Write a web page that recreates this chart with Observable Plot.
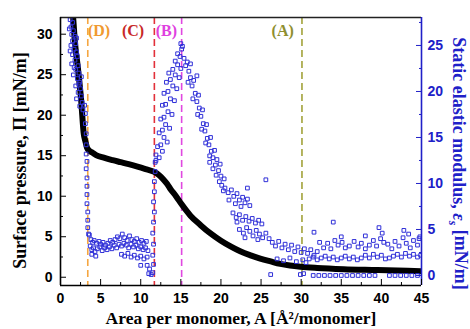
<!DOCTYPE html>
<html><head><meta charset="utf-8">
<script src="https://cdn.jsdelivr.net/npm/d3@7"></script>
<script src="https://cdn.jsdelivr.net/npm/@observablehq/plot@0.6"></script>
<style>body{margin:0;background:#fff}</style>
</head><body><div id="chart"></div>
<script>
// ---- scales / ticks ----
const xDomain = [0, 45];
const leftDomain = [-1.02, 32.06];   // surface pressure Π
const rightDomain = [-1.09, 28.04];  // elastic modulus ε_s
const xTicks = [0, 5, 10, 15, 20, 25, 30, 35, 40, 45];
const xMinor = [2.5, 7.5, 12.5, 17.5, 22.5, 27.5, 32.5, 37.5, 42.5];
const leftTicks = [0, 5, 10, 15, 20, 25, 30];
const leftMinor = [2.5, 7.5, 12.5, 17.5, 22.5, 27.5];
const rightTicks = [0, 5, 10, 15, 20, 25];
const rightMinor = [2.5, 7.5, 12.5, 17.5, 22.5, 27.5];

// ---- isotherm (black) ----
const isoA = [1.5, 1.58, 1.8, 2.16, 2.58, 2.9, 3.1, 3.3, 3.6, 3.95, 4.5, 5.4, 6.5, 7.5, 8.5, 9.6, 10.6, 11.7, 12.3, 12.8, 13.3, 13.7, 14.4, 15.1, 16.2, 17.5, 18.7, 20.0, 21.2, 22.4, 23.7, 24.9, 26.2, 27.4, 28.6, 29.9, 32.0, 35.3, 39.5, 45];
const isoP = [33, 32, 29, 25.9, 21.8, 17.7, 16.8, 16.0, 15.6, 15.4, 15.05, 14.75, 14.45, 14.2, 13.95, 13.65, 13.35, 13.0, 12.6, 12.1, 11.5, 10.9, 10.0, 9.0, 7.6, 6.4, 5.4, 4.5, 3.8, 3.2, 2.7, 2.3, 1.95, 1.65, 1.45, 1.3, 1.15, 1.0, 0.9, 0.75];

// ---- elastic modulus (blue squares), [A, ε] ----
const modSolid = [[1.2,27.8],[1.5,27.5],[1.3,27],[1.6,26.6],[1.4,26.2],[1.8,26],[1.5,25.5],[1.9,25.2],[1.3,25],[1.7,24.6],[2.0,24.3],[1.5,24],[2.1,23.8],[1.8,23.4],[1.4,23],[2.2,22.8],[1.9,22.4],[2.3,22],[1.6,21.8],[2.1,21.4],[2.4,21],[1.9,20.6],[2.5,20.3],[2.2,19.9],[2.6,19.5],[2.0,19.2],[2.7,18.8],[2.4,18.4],[2.8,18],[1.1,26.8],[1.2,24.4],[1.7,22.6],[2.3,20.8],[2.6,21.6],[2.0,25.8]];
const modCollapse = [[3.0,18.5],[3.1,17.6],[3.1,16.5],[3.2,15.4],[3.2,14.2],[3.2,13.2],[3.3,12.4],[3.2,11.6],[3.3,10.6],[3.3,9.7],[3.3,8.8],[3.3,7.8],[3.4,6.9],[3.4,6.0],[3.4,5.2],[3.5,4.5]];
const modLiquid = [[3.6,4.4],[3.8,3.9],[4.0,3.6],[4.2,3.8],[4.5,3.5],[4.8,3.7],[5.0,3.4],[5.3,3.6],[5.6,3.3],[5.9,3.5],[6.2,3.8],[6.5,3.6],[6.8,3.9],[7.1,4.2],[7.4,4.0],[7.7,4.5],[8.0,4.1],[8.3,3.8],[8.6,4.3],[8.9,3.9],[9.2,3.7],[9.5,4.0],[9.8,3.6],[10.1,3.8],[10.4,3.5],[10.7,3.7],
  [3.7,3.2],[3.9,2.8],[4.1,3.0],[4.3,2.6],[4.6,2.9],[4.9,3.1],[5.2,2.7],[5.5,3.0],[5.8,2.8],[6.1,3.1],[6.4,2.9],[6.7,3.3],[7.0,3.0],[7.3,3.4],[7.6,3.2],[7.9,3.5],[8.2,3.3],[8.5,3.0],[8.8,3.4],[9.1,3.1],[9.4,3.3],[9.7,2.9],[10.0,3.1],[10.3,2.8],[10.6,3.0],[10.9,2.7],
  [3.9,2.3],[4.4,2.1],[7.6,2.3],[8.0,2.1],[8.4,2.4],[8.8,2.0],[9.2,2.2],[9.6,1.9],[10.0,2.1],[10.4,1.8],[10.8,2.0],
  [10.0,1.1],[10.8,1.1],[11.1,0.7],[11.0,0.2],[11.3,0.1]];
const modTransition = [[11.5,0.3],[11.6,1.2],[11.5,2.2],[11.6,3.4],[11.5,4.6],[11.6,5.8],[11.7,6.9],[11.6,8.0],[11.7,9.1],[11.7,10.2],[11.8,11.3],[11.8,12.3],[11.9,13.1]];
const modRise = [[11.9,12.5],[12.1,14],[12.3,15.5],[12.5,17],[12.7,18.5],[12.9,19.8],[13.2,21],[13.5,22],
  [12.3,12.8],[12.5,14.2],[12.7,15.8],[12.9,17.2],[13.1,18.6],[13.4,20],[13.7,21.3],[14.0,22.4],[14.3,23.3],
  [12.7,13.5],[12.9,15],[13.1,16.4],[13.4,17.8],[13.7,19.2],[14.0,20.6],[14.3,21.8],[14.6,22.9],[14.9,23.8],[15.1,24.6],
  [13.3,14.5],[13.6,16],[13.9,17.5],[14.2,19],[14.5,20.3],[14.8,21.5],[15.0,22.5],
  [15.2,24.9],[14.6,24.1],[15.0,25.2]];
const modFall = [[15.4,23.6],[15.6,22.8],[15.8,23.2],[16.0,22.2],[16.2,21.5],[15.9,21.0],[16.4,20.6],[16.6,21.2],[16.8,19.8],[16.5,19.2],[17.0,18.9],[17.2,19.6],[17.3,18.2],[17.1,17.5],[17.5,17.3],[17.7,18.0],[17.8,16.5],[17.6,15.9],[18.0,15.7],[18.2,16.4],[18.3,14.9],[18.1,14.4],[18.5,14.2],[18.7,15.0],[18.8,13.5],[18.6,13.0],[19.0,12.8],[19.2,13.6],[19.3,12.0],[19.5,12.6],[19.7,11.4],[19.9,12.1],[20.0,10.8],[17.0,21.7],[16.2,23.0],
  [18.6,12.3],[19.0,11.6],[19.4,10.9],[19.8,10.2],[20.1,9.8],[20.4,10.5],[20.3,9.2],
  [20.5,9.5],[20.9,9.0],[21.3,9.3],[21.6,8.6],[22.0,8.9],[22.3,8.2],[22.7,8.5],[23.0,7.9],[23.3,8.3],[23.6,7.6],[21.0,8.2],[21.8,7.8],[22.5,7.5],
  [21.5,6.8],[21.9,6.3],[22.3,6.6],[22.7,6.0],[23.1,6.4],[23.5,5.9],[23.9,6.2],[24.3,5.7],[24.7,6.0],[25.1,5.6],[22.0,5.8],
  [22.3,5.0],[22.8,4.6],[23.2,5.2],[23.6,4.8],[24.0,4.3],[24.4,4.9],[24.8,4.5],[25.2,4.1],[25.6,4.6],[26.0,4.0],[23.0,4.1],[24.6,3.9],
  [26.4,3.6],[26.8,3.2],[27.2,3.7],[27.6,3.0],[28.0,3.4],[28.4,2.8],[28.8,3.3],[29.2,2.6],[29.6,3.1],[30.0,2.5],[30.4,2.9],[30.8,2.4],[31.2,2.8],[31.6,2.2],[32.0,2.6],
  [25.6,10.4],[23.3,9.5],[26.2,0.1],[29.9,0.1],[30.3,0.2],
  [27.0,1.8],[27.8,1.6],[28.6,1.9],[29.4,1.5],[30.2,1.7],[30.6,1.4]];
const modGas = [[32.3,3.6],[32.8,3.0],[33.3,3.5],[33.7,2.9],[34.2,3.8],[34.6,3.3],[35.1,3.6],[35.5,3.0],[36.0,3.2],[36.6,3.7],[37.1,3.1],[37.5,3.5],[38.0,2.9],[38.5,3.3],[39.0,3.8],[39.4,3.2],[39.9,4.0],[40.3,3.6],[40.8,3.4],[41.3,2.9],[41.7,3.7],[42.2,3.2],[42.7,4.1],[43.1,3.5],[43.6,3.0],[44.0,3.8],[44.5,3.3],[44.8,4.2],
  [31.0,1.8],[31.5,2.0],[32.0,1.7],[32.5,1.9],[33.0,2.1],[33.5,1.8],[34.0,2.0],[34.5,1.7],[35.0,1.9],[35.5,2.1],[36.0,1.8],[36.5,2.0],[37.0,1.7],[37.5,1.9],[38.0,2.2],[38.5,1.9],[39.0,2.3],[39.5,2.0],[40.0,2.2],[40.5,1.8],[41.0,1.9],[41.5,2.1],[42.0,2.3],[42.5,2.0],[43.0,2.4],[43.5,2.1],[44.0,2.3],[44.5,2.0],[44.9,2.2],
  [31.5,0],[32.2,0],[32.9,0],[33.6,0],[34.3,0],[35.0,0],[35.7,0],[36.4,0],[37.1,0],[37.8,0],[38.5,0],[39.2,0],[41.0,0],[41.7,0],[42.4,0],[43.1,0],[43.8,0],[44.5,0],
  [34.0,5.8],[39.7,5.2],[42.8,4.9],[31.6,4.7],[35.0,4.2],[38.0,4.3],[40.1,4.6],[43.4,4.5],[44.7,4.0]];

// ---- phase markers ----
const phaseNames = ["(D)", "(C)", "(B)", "(A)"];
const phaseLineA = [3.4, 11.7, 15.1, 30.1];
const phaseLabelA = [4.8, 9.05, 13.2, 27.7];
const phaseLabelP = 30.45;
const phaseLineColors = ["#f5a640", "#e2303a", "#e048e0", "#a2a23a"];
const phaseTextColors = ["#f09a30", "#c82828", "#e040e0", "#8f8f30"];

const titleX = "Area per monomer, A [Å²/monomer]";
const titleLeft = "Surface pressure, Π [mN/m]";
const titleRightParts = ["Static elastic modulus, ", "ε", "s", " [mN/m]"];
const blue = "#2020c8";
const squareBlue = "#3030d8";

// map right-axis values onto the left (y) scale
const toLeft = e => leftDomain[0] + (e - rightDomain[0]) * (leftDomain[1] - leftDomain[0]) / (rightDomain[1] - rightDomain[0]);
const fromLeft = p => rightDomain[0] + (p - leftDomain[0]) * (rightDomain[1] - rightDomain[0]) / (leftDomain[1] - leftDomain[0]);

const iso = isoA.map((a, i) => ({a, p: isoP[i]}));
const mod = [...modSolid, ...modCollapse, ...modLiquid, ...modTransition, ...modRise, ...modFall, ...modGas].map(([a, e]) => ({a, e}));
const phaseLines = phaseLineA.map((a, i) => ({a, c: phaseLineColors[i]}));
const phaseLabels = phaseNames.map((t, i) => ({t, a: phaseLabelA[i], p: phaseLabelP, c: phaseTextColors[i]}));
const serif = "'Liberation Serif', 'Times New Roman', serif";

const chart = Plot.plot({
  width: 470, height: 329,
  marginLeft: 60, marginRight: 49, marginTop: 17, marginBottom: 44,
  x: {domain: xDomain},
  y: {domain: leftDomain},
  color: {type: "identity"},
  style: {fontFamily: "'Liberation Sans', Arial, sans-serif", fontWeight: "bold", fontSize: "14px", background: "white", color: "black"},
  marks: [
    Plot.ruleX(phaseLines, {x: "a", stroke: "c", strokeWidth: 1.6, strokeDasharray: "7,4"}),
    Plot.line(iso, {x: "a", y: "p", stroke: "black", strokeWidth: 6, strokeLinecap: "round", strokeLinejoin: "round", curve: "monotone-x", clip: true}),
    Plot.dot(mod, {x: "a", y: d => toLeft(d.e), symbol: "square", r: 2.1, stroke: squareBlue, fill: "none", strokeWidth: 1, clip: true}),
    Plot.text(phaseLabels, {x: "a", y: "p", text: "t", fill: "c", fontFamily: serif, fontSize: 16, fontWeight: "bold"}),
    Plot.ruleY([leftDomain[0]], {stroke: "black", strokeWidth: 1.6}),
    Plot.ruleY([leftDomain[1]], {stroke: "#222", strokeWidth: 1.6}),
    Plot.ruleX([xDomain[0]], {stroke: "black", strokeWidth: 1.6}),
    Plot.ruleX([xDomain[1]], {stroke: blue, strokeWidth: 1.6}),
    Plot.axisX({ticks: xTicks, tickSize: -6, tickPadding: 14, label: null, fontSize: 14}),
    Plot.axisX({ticks: xMinor, tickSize: -3, tickFormat: () => "", label: null}),
    Plot.axisY({ticks: leftTicks, tickSize: -6, tickPadding: 14, label: null, fontSize: 14}),
    Plot.axisY({ticks: leftMinor, tickSize: -3, tickFormat: () => "", label: null}),
    Plot.axisY({anchor: "right", ticks: rightTicks.map(toLeft), tickFormat: d => String(Math.round(fromLeft(d))), tickSize: -6, tickPadding: 12, color: blue, label: null, fontSize: 14}),
    Plot.axisY({anchor: "right", ticks: rightMinor.map(toLeft), tickSize: -3, tickFormat: () => "", color: blue, label: null}),
    Plot.text([titleX], {text: d => d, frameAnchor: "bottom", textAnchor: "middle", lineAnchor: "middle", dy: 33, fontFamily: serif, fontSize: 17.5, fontWeight: "bold", fill: "black"}),
    Plot.text([titleLeft], {text: d => d, frameAnchor: "left", textAnchor: "middle", lineAnchor: "middle", rotate: -90, dx: -40, dy: 9, fontFamily: serif, fontSize: 18, fontWeight: "bold", fill: "black"}),
    Plot.text([titleRightParts.join("")], {text: d => d, frameAnchor: "right", textAnchor: "middle", lineAnchor: "middle", rotate: 90, dx: 37, dy: 12, fontFamily: serif, fontSize: 18, fontWeight: "bold", fill: blue})
  ]
});
document.getElementById("chart").appendChild(chart);

// subscript for ε_s
const full = titleRightParts.join("");
d3.select(chart).selectAll("text").filter(function () { return this.textContent === full; }).each(function () {
  const t = d3.select(this);
  t.text(null);
  t.append("tspan").text(titleRightParts[0]);
  t.append("tspan").attr("font-style", "italic").text(titleRightParts[1]);
  t.append("tspan").attr("font-size", "12px").attr("font-style", "italic").attr("dy", "0.3em").text(titleRightParts[2]);
  t.append("tspan").attr("dy", "-0.3em").text(titleRightParts[3]);
});
</script>
</body></html>
